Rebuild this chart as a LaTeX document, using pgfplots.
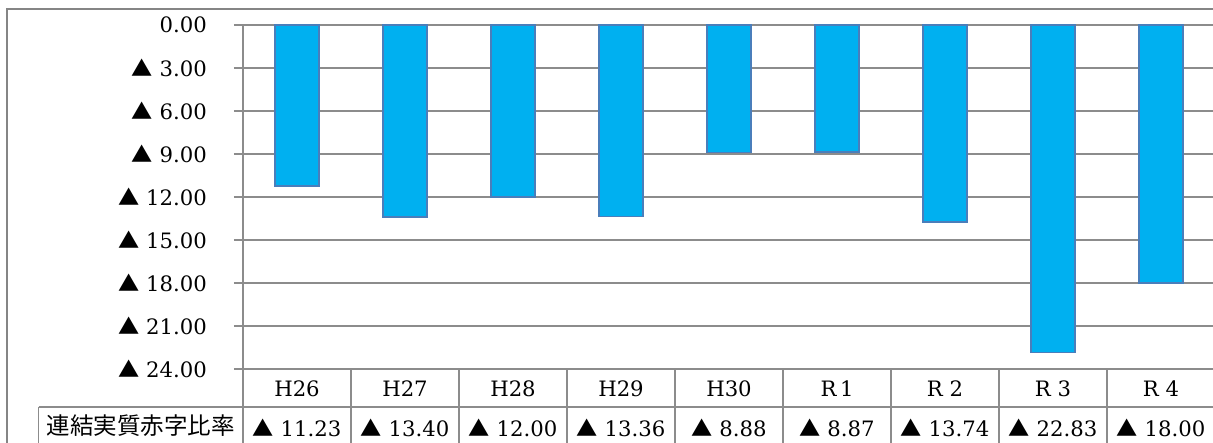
\documentclass[border=0pt]{standalone}
\usepackage{fontspec}
\setmainfont{DejaVu Serif}
\usepackage{pgfplots}
\pgfplotsset{compat=1.18}
\newfontfamily\cjk{Noto Sans CJK JP}
\definecolor{barfill}{HTML}{00B0F0}
\definecolor{barline}{HTML}{4A7EBB}
\definecolor{gridc}{HTML}{8C8C8C}
\definecolor{framec}{HTML}{858585}
\newcommand{\tri}{{\cjk ▲}}
\newcommand{\bigfont}{\fontsize{21.2}{25}\selectfont}
\begin{document}
\begin{tikzpicture}[x=1pt,y=1pt]
\path[use as bounding box] (0,0) rectangle (1213,-443);
\clip (0,0) rectangle (1213,-443);
\draw[framec, line width=2pt] (7,-8.7) rectangle (1240,-470);
\begin{axis}[
  at={(243pt,-25pt)}, anchor=north west,
  scale only axis, width=972pt, height=344pt,
  xmin=-0.5, xmax=8.5, ymin=0, ymax=24, y dir=reverse,
  ybar, bar width=44pt,
  axis line style={gridc, line width=1.2pt},
  ymajorgrids, grid style={gridc, line width=1.2pt},
  ytick={0,3,...,24},
  yticklabels={0.00,\tri{} 3.00,\tri{} 6.00,\tri{} 9.00,\tri{} 12.00,\tri{} 15.00,\tri{} 18.00,\tri{} 21.00,\tri{} 24.00},
  ytick pos=left,
  tick align=outside,
  major tick length=9pt,
  ytick style={gridc, line width=1.2pt},
  xtick=\empty,
  tick label style={font=\bigfont},
  yticklabel style={anchor=east, inner sep=0pt, xshift=-27pt},
]
\addplot[fill=barfill, draw=barline, line width=1.3pt] coordinates {
  (0,11.23) (1,13.40) (2,12.00) (3,13.36) (4,8.88) (5,8.87) (6,13.74) (7,22.83) (8,18.00)
};
\end{axis}
% data table grid
\draw[gridc, line width=1.2pt] (234,-369) -- (243,-369);
\draw[gridc, line width=1.2pt] (38.5,-407) -- (1230,-407);
\draw[gridc, line width=1.2pt] (38.5,-407) -- (38.5,-470);
\foreach \k in {0,...,8} {
  \draw[gridc, line width=1.2pt] ({243+\k*108},-369) -- ({243+\k*108},-470);
}
\foreach \c [count=\i from 0] in {H26,H27,H28,H29,H30,R\,1,R 2,R 3,R 4} {
  \node[anchor=base, inner sep=0pt, font=\bigfont] at ({243+(\i+0.5)*108},-397) {\c};
}
\node[anchor=base, inner sep=0pt, font=\cjk\fontsize{23.5}{27}\selectfont] at (140.5,-435) {連結実質赤字比率};
\foreach \v [count=\i from 0] in {11.23,13.40,12.00,13.36,8.88,8.87,13.74,22.83,18.00} {
  \node[anchor=base, inner sep=0pt, font=\bigfont] at ({243+(\i+0.5)*108},-436) {\tri{} \v};
}
\end{tikzpicture}
\end{document}
